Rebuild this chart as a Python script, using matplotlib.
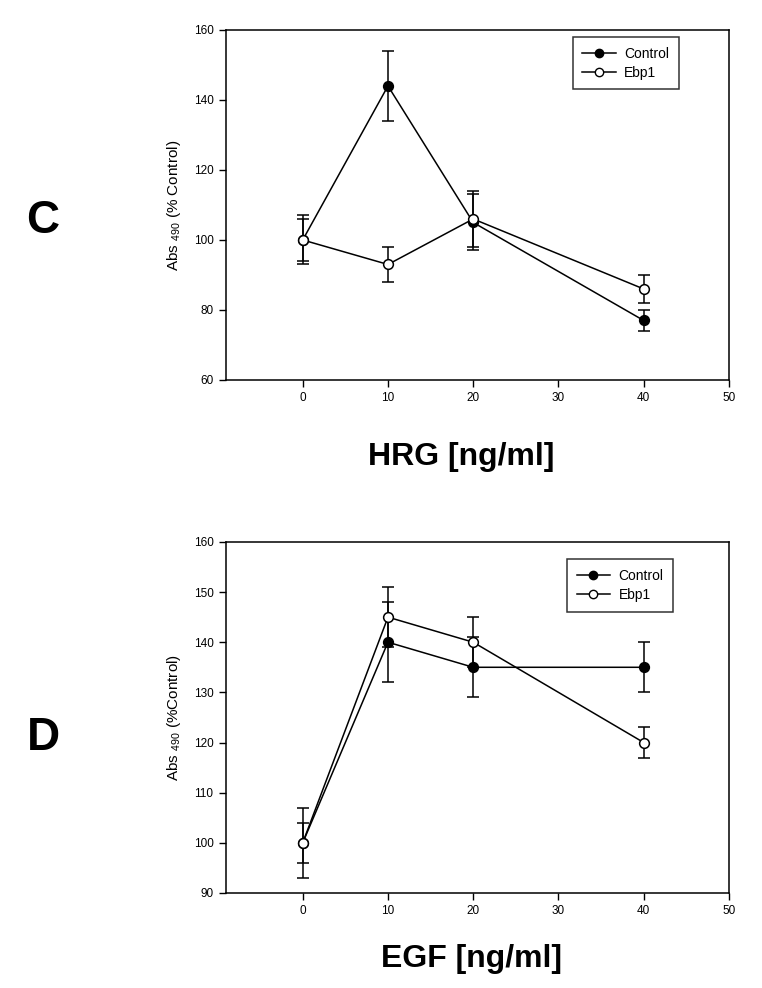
import matplotlib
matplotlib.use("Agg")
import matplotlib.pyplot as plt
from matplotlib.lines import Line2D

plt.rcParams['font.family'] = ['Liberation Sans', 'DejaVu Sans']
plt.rcParams['mathtext.default'] = 'regular'

# data
dose = [0, 10, 20, 40]

# panel C (HRG)
hrg_ctrl = [100, 144, 105, 77]
hrg_ctrl_err = [7, 10, 8, 3]
hrg_ebp1 = [100, 93, 106, 86]
hrg_ebp1_err = [6, 5, 8, 4]

# panel D (EGF)
egf_ctrl = [100, 140, 135, 135]
egf_ctrl_err = [4, 8, 6, 5]
egf_ebp1 = [100, 145, 140, 120]
egf_ebp1_err = [7, 6, 5, 3]

xticks = [0, 10, 20, 30, 40, 50]

fig = plt.figure(figsize=(7.62, 9.88), dpi=100)
ax1 = fig.add_axes([0.2966, 0.6154, 0.660, 0.3543])
ax2 = fig.add_axes([0.2966, 0.0962, 0.660, 0.3553])


def panel(ax, ctrl, cerr, ebp, eerr, ylim, yticks, ylabel, xlabel, xlab_pos,
          letter, letter_y, leg_anchor):
    eb = dict(color='black', lw=1.1, ecolor='black', elinewidth=1.1,
              capsize=4.5, capthick=1.1, markersize=7, markeredgewidth=1.1)
    ax.errorbar(dose, ctrl, yerr=cerr, marker='o', mfc='black', mec='black',
                zorder=3, **eb)
    ax.errorbar(dose, ebp, yerr=eerr, marker='o', mfc='white', mec='black',
                zorder=4, **eb)
    ax.set_xlim(-9, 50)
    ax.set_ylim(*ylim)
    ax.set_xticks(xticks)
    ax.set_yticks(yticks)
    ax.tick_params(direction='out', length=5, width=1, labelsize=8.5, pad=4)
    for s in ax.spines.values():
        s.set_linewidth(1.1)
    ax.set_ylabel(ylabel, fontsize=11, labelpad=8)
    # big bold x label, placed by baseline
    ax.text(xlab_pos[0], xlab_pos[1], xlabel, transform=ax.transAxes,
            fontsize=23, fontweight='bold', ha='center', va='baseline')
    ax.text(-0.364, letter_y, letter, transform=ax.transAxes, fontsize=33,
            fontweight='bold', ha='center', va='baseline')
    handles = [Line2D([], [], color='black', lw=1.1, marker='o', ms=6,
                      mfc='black', mec='black'),
               Line2D([], [], color='black', lw=1.1, marker='o', ms=6,
                      mfc='white', mec='black')]
    leg = ax.legend(handles, ['Control', 'Ebp1'], loc='upper left',
                    bbox_to_anchor=leg_anchor, fontsize=10,
                    frameon=True, fancybox=False, edgecolor='black',
                    handlelength=2.4, handletextpad=0.6, borderpad=0.7,
                    labelspacing=0.35, borderaxespad=0)
    leg.get_frame().set_linewidth(1.1)


panel(ax1, hrg_ctrl, hrg_ctrl_err, hrg_ebp1, hrg_ebp1_err,
      (60, 160), [60, 80, 100, 120, 140, 160],
      'Abs $_{490}$ (% Control)', 'HRG [ng/ml]', (0.467, -0.243),
      'C', 0.42, (0.689, 0.98))
panel(ax2, egf_ctrl, egf_ctrl_err, egf_ebp1, egf_ebp1_err,
      (90, 160), [90, 100, 110, 120, 130, 140, 150, 160],
      'Abs $_{490}$ (%Control)', 'EGF [ng/ml]', (0.489, -0.211),
      'D', 0.407, (0.678, 0.95))

fig.savefig('out.png', dpi=100)
